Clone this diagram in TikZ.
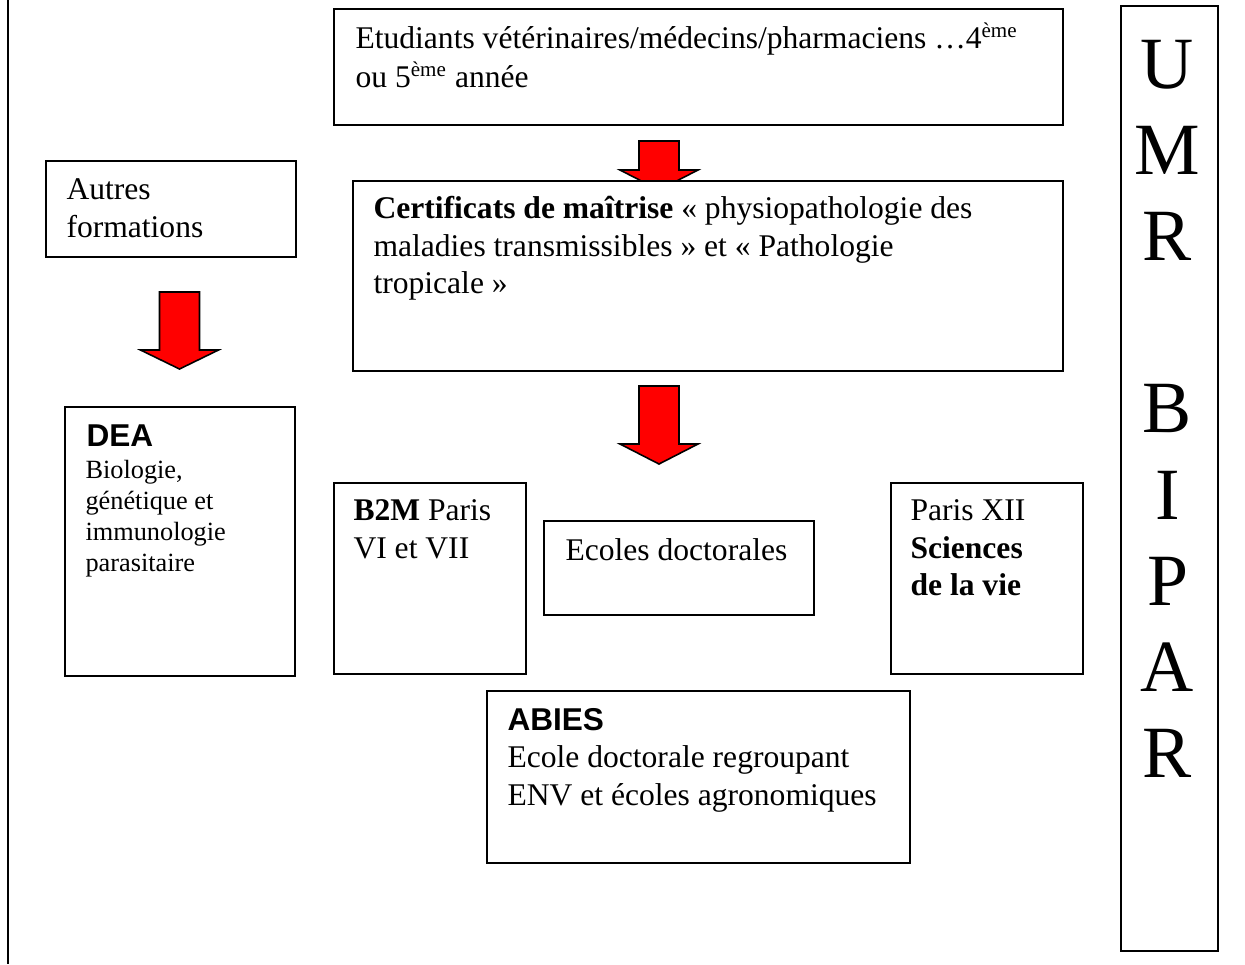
\documentclass[tikz,border=0pt]{standalone}
\usepackage{fontspec}
\setmainfont{Liberation Serif}
\setsansfont{Liberation Sans}

\newcommand\bodyfont{\fontsize{12}{14.25}\selectfont}
\newcommand\smallbody{\fontsize{10}{11.8}\selectfont}
\newcommand\bigletters{\fontsize{28}{32.7}\selectfont}

\begin{document}
\begin{tikzpicture}
        [
            x = 0.38pt, y = -0.38pt,
            boxed/.style     = {shape=rectangle, draw, fill=white, line width=0.75pt, inner sep=0pt, anchor=north west},
            boxsize/.style 2 args = {minimum width=#1*0.38pt, minimum height=#2*0.38pt},
            txt/.style       = {inner sep=0pt, anchor=north west, align=left, font=\bodyfont},
            heading/.style   = {txt, font={\sffamily\bfseries\bodyfont}},
            bigarrow/.style  = {draw, fill=red, line width=0.6pt, line join=miter},
        ]
        \useasboundingbox (0,0) rectangle (1245,964);
        % rule at the left margin
        \draw [line width=0.75pt] (8,0) -- (8,964);

        % red arrows first, the boxes cover their tips
        \draw [bigarrow] (659,141) ++(-20,0) -- ++(0,29) -- ++(-19,0) -- ++(39,20) -- ++(39,-20) -- ++(-19,0) -- ++(0,-29) -- cycle;
        \draw [bigarrow] (179.5,292) ++(-20,0) -- ++(0,58) -- ++(-19,0) -- ++(39,19) -- ++(39,-19) -- ++(-19,0) -- ++(0,-58) -- cycle;
        \draw [bigarrow] (659,386) ++(-20,0) -- ++(0,58) -- ++(-19,0) -- ++(39,20) -- ++(39,-20) -- ++(-19,0) -- ++(0,-58) -- cycle;

        % boxes
        \node [boxed, boxsize={729}{116}] (etud)   at (333,8)   {};
        \node [boxed, boxsize={250}{96}]  (autres) at (45,160)  {};
        \node [boxed, boxsize={710}{190}] (certif) at (352,180) {};
        \node [boxed, boxsize={230}{269}] (dea)    at (64,406)  {};
        \node [boxed, boxsize={192}{191}] (b2m)    at (333,482) {};
        \node [boxed, boxsize={270}{94}]  (ecoles) at (543,520) {};
        \node [boxed, boxsize={192}{191}] (paris)  at (890,482) {};
        \node [boxed, boxsize={423}{172}] (abies)  at (486,690) {};
        \node [boxed, boxsize={97}{945}]  (umr)    at (1120,5)  {};

        % texts
        \node [txt] (etudT) at ([shift={(22,13.75)}]etud.north west)
            {\strut Etudiants vétérinaires/médecins/pharmaciens …4\textsuperscript{ème}\\[0.6pt]ou 5\textsuperscript{ème} année};
        \node [txt] (autresT) at ([shift={(21,12.75)}]autres.north west) {\strut Autres\\formations};
        \node [txt] (certifT) at ([shift={(21,11.75)}]certif.north west)
            {\strut\textbf{Certificats de maîtrise} « physiopathologie des\\maladies transmissibles » et « Pathologie\\tropicale »};
        \node [heading] (deaH) at ([shift={(22,13.75)}]dea.north west) {\strut DEA};
        \node [txt, font=\smallbody] (deaT) at ([shift={(21,50.3)}]dea.north west)
            {\strut Biologie,\\génétique et\\immunologie\\parasitaire};
        \node [txt] (b2mT) at ([shift={(20,11.75)}]b2m.north west) {\strut\textbf{B2M} Paris\\VI et VII};
        \node [txt] (ecolesT) at ([shift={(22,13.75)}]ecoles.north west) {\strut Ecoles doctorales};
        \node [txt] (parisT) at ([shift={(20,11.75)}]paris.north west) {\strut Paris XII\\\textbf{Sciences}\\\textbf{de la vie}};
        \node [heading] (abiesH) at ([shift={(21,13.75)}]abies.north west) {\strut ABIES};
        \node [txt] (abiesT) at ([shift={(21,50.75)}]abies.north west)
            {\strut Ecole doctorale regroupant\\ENV et écoles agronomiques};
        \node [txt, align=center, anchor=north, font=\bigletters] (umrT) at ([shift={(-2,23)}]umr.north)
            {\strut U\\M\\R\\[32.7pt]B\\I\\P\\A\\R};
    \end{tikzpicture}
\end{document}
